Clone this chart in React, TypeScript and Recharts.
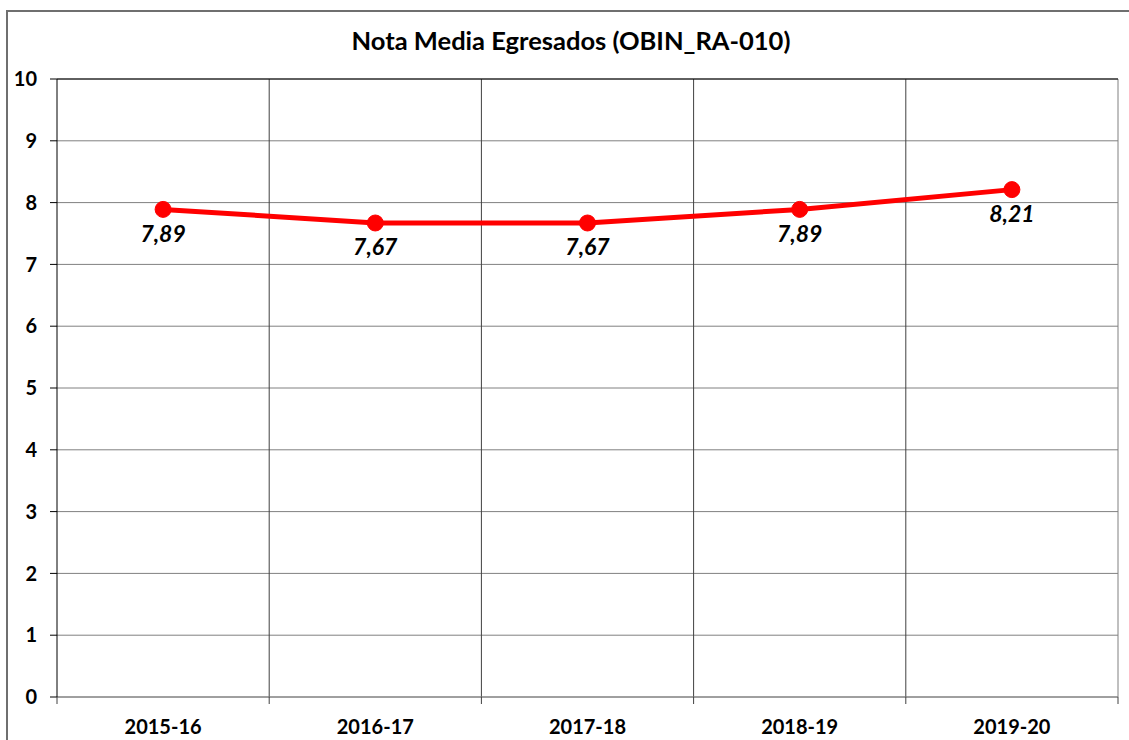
import {
  LineChart,
  Line,
  XAxis,
  YAxis,
  CartesianGrid,
  ReferenceLine,
  LabelList,
} from "recharts"

const cursos = ["2015-16", "2016-17", "2017-18", "2018-19", "2019-20"]
const notaMedia = [7.89, 7.67, 7.67, 7.89, 8.21]
const yTicks = [0, 1, 2, 3, 4, 5, 6, 7, 8, 9, 10]

const data = cursos.map((curso, i) => ({ curso, nota: notaMedia[i] }))

const W = 1129
const H = 740
const M = { top: 79, right: 11, left: 0, bottom: 0 }
const Y_W = 57
const X_H = 43
const BAND = (W - M.left - M.right - Y_W) / cursos.length

const font = "Lato, 'Noto Sans', sans-serif"

// separators between categories (Excel style: grid on category edges)
const innerEdges = ({ offset }: any) =>
  cursos.slice(1).map((_, i) => offset.left + ((i + 1) * offset.width) / cursos.length)
const rightEdge = ({ offset }: any) => [offset.left + offset.width]

const CursoTick = (props: any) => {
  const { x, payload, index } = props
  const top = H - X_H
  return (
    <g>
      <line x1={x - BAND / 2} x2={x - BAND / 2} y1={top} y2={top + 7} stroke="#404040" />
      {index === cursos.length - 1 && (
        <line x1={x + BAND / 2} x2={x + BAND / 2} y1={top} y2={top + 7} stroke="#404040" />
      )}
      <text
        x={x}
        y={top + 32}
        textAnchor="middle"
        dominantBaseline="middle"
        fontFamily={font}
        fontWeight="bold"
        fontSize={20}
        fill="#000"
      >
        {payload.value}
      </text>
    </g>
  )
}

export default function App() {
  return (
    <div
      style={{
        position: "absolute",
        left: 0,
        top: 0,
        width: W,
        height: H,
        background: "#fff",
        overflow: "hidden",
      }}
    >
      <div
        style={{
          position: "absolute",
          left: 6,
          top: 10,
          width: W,
          height: H,
          borderLeft: "2px solid #6f6f6f",
          borderTop: "2px solid #6f6f6f",
        }}
      />
      <div
        style={{
          position: "absolute",
          left: 0,
          top: 25,
          width: 1142,
          textAlign: "center",
          fontFamily: font,
          fontWeight: "bold",
          fontSize: 25.5,
          color: "#000",
        }}
      >
        Nota Media Egresados (OBIN_RA-010)
      </div>
      <div style={{ position: "absolute", left: 0, top: 0 }}>
        <LineChart width={W} height={H} data={data} margin={M}>
          <CartesianGrid horizontal vertical={false} stroke="#808080" />
          <CartesianGrid
            horizontal={false}
            verticalCoordinatesGenerator={innerEdges}
            stroke="#404040"
          />
          <CartesianGrid
            horizontal={false}
            verticalCoordinatesGenerator={rightEdge}
            stroke="#808080"
          />
          <XAxis
            dataKey="curso"
            scale="band"
            height={X_H}
            tickLine={false}
            axisLine={{ stroke: "#808080" }}
            tick={<CursoTick />}
            interval={0}
          />
          <YAxis
            width={Y_W}
            domain={[0, 10]}
            ticks={yTicks}
            interval={0}
            tickSize={7}
            tickMargin={13}
            axisLine={{ stroke: "#000" }}
            tickLine={{ stroke: "#000" }}
            tick={{ fill: "#000", fontFamily: font, fontWeight: "bold", fontSize: 20 }}
          />
          <ReferenceLine y={10} stroke="#000" ifOverflow="visible" />
          <Line
            dataKey="nota"
            stroke="#ff0000"
            strokeWidth={5}
            dot={{ r: 8, fill: "#ff0000", stroke: "#ff0000", strokeWidth: 1 }}
            activeDot={false}
            isAnimationActive={false}
          >
            <LabelList
              dataKey="nota"
              position="bottom"
              offset={16}
              formatter={(v: any) => Number(v).toFixed(2).replace(".", ",")}
              style={{
                fill: "#000",
                fontFamily: font,
                fontWeight: "bold",
                fontStyle: "italic",
                fontSize: 23,
              }}
            />
          </Line>
        </LineChart>
      </div>
    </div>
  )
}
